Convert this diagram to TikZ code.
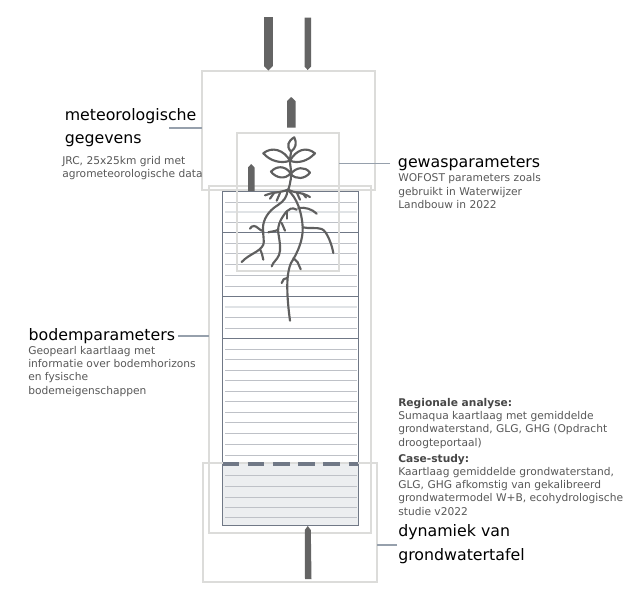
\documentclass[tikz,border=0pt]{standalone}
\usepackage{fontspec}
\setmainfont{DejaVu Sans}
\definecolor{boxgrey}{RGB}{220,220,218}
\definecolor{leadergrey}{RGB}{150,160,172}
\definecolor{soildark}{RGB}{112,120,134}
\definecolor{soilline}{RGB}{190,193,199}
\definecolor{soillight}{RGB}{224,227,230}
\definecolor{flowgrey}{RGB}{100,100,100}
\definecolor{plantgrey}{RGB}{95,95,95}
\definecolor{watergrey}{RGB}{236,238,240}
\definecolor{detailgrey}{RGB}{88,88,88}
\tikzset{
  regionbox/.style={draw=boxgrey,line width=1.5pt,inner sep=0pt,outer sep=0pt},
  leaderline/.style={draw=leadergrey,line width=1.2pt},
  flowarrow/.style={fill=flowgrey,draw=none},
  plantline/.style={draw=plantgrey,line width=1.6pt,line cap=round,line join=round},
  rootline/.style={draw=plantgrey,line width=1.6pt,line cap=round,line join=round},
  bigtext/.style={anchor=base west,inner sep=0pt,font=\fontsize{11.85}{18}\selectfont,text=black},
  detailtext/.style={anchor=base west,inner sep=0pt,font=\fontsize{8}{10}\selectfont,text=detailgrey},
  headtext/.style={detailtext,font=\fontsize{8}{10}\selectfont\bfseries,text=black!72},
}
\begin{document}
\begin{tikzpicture}[x=0.75pt,y=0.75pt,yscale=-1,xscale=1]
\useasboundingbox (0,0) rectangle (643,611);
\fill[white] (0,0) rectangle (643,611);

%Shape: groundwater fill
\fill[watergrey] (222,464) rectangle (358,525);

%Straight Lines: soil layers
\foreach \laagy in {202,222,243,253,264,275,286,317,328,349,359,370,380,391,401,412,422,433,444,455,475,486,497,507,517}{
  \draw[soilline,line width=0.7pt] (225,\laagy) -- (357,\laagy);
}
\foreach \laagy in {212,307}{
  \draw[soillight,line width=1.2pt] (225,\laagy) -- (357,\laagy);
}
\foreach \laagy in {232,296,338}{
  \draw[soildark,line width=0.7pt] (222,\laagy) -- (358,\laagy);
}

%Shape: soil column
\draw[soildark,line width=0.7pt] (222,191.5) rectangle (358,525);

%Shape: grey boxes
\node[regionbox,minimum width=129.75pt,minimum height=89.25pt] (meteobox) at (288.5,130.5) {};
\node[regionbox,minimum width=76.5pt,minimum height=103.5pt] (gewasbox) at (288,202) {};
\node[regionbox,minimum width=121.5pt,minimum height=260.25pt] (bodembox) at (290,359.5) {};
\node[regionbox,minimum width=130.5pt,minimum height=89.25pt] (waterbox) at (290,522.5) {};

%Straight Lines: water table
\draw[soildark,line width=3pt,dash pattern=on 12.5pt off 6.4pt] (222.5,464) -- (358,464);

%Shape: flow arrows
\fill[flowarrow] (264,17) -- (272.8,17) -- (272.8,66) -- (268.4,70.5) -- (264,66) -- cycle;
\fill[flowarrow] (304.5,17.5) -- (311,17.5) -- (311,66.5) -- (307.7,70) -- (304.5,66.5) -- cycle;
\fill[flowarrow] (287,127.5) -- (295.5,127.5) -- (295.5,101) -- (291.2,97) -- (287,101) -- cycle;
\fill[flowarrow] (248,191) -- (254.5,191) -- (254.5,167.5) -- (251.2,164) -- (248,167.5) -- cycle;
\fill[flowarrow] (305,579) -- (311.5,579) -- (310.8,530) -- (307.8,526) -- (304.8,530) -- cycle;

%Plant: stem and leaves
\draw[plantline] (288.3,190) .. controls (290.5,182) and (292,176) .. (290.7,168) .. controls (289.5,162) and (290,157) .. (291.2,151.7);
\draw[plantline] (291,151.7) .. controls (286,146) and (288,141) .. (294.3,137.3) .. controls (297,143) and (296,148) .. (291,151.7) -- cycle;
\draw[plantline] (290,160.7) .. controls (284,150) and (272,146) .. (263.3,153.3) .. controls (270,161) and (281,164) .. (290,160.7) -- cycle;
\draw[plantline] (290,160.7) .. controls (296,150) and (306,146) .. (315,153.3) .. controls (308,161) and (298,164) .. (290,160.7) -- cycle;
\draw[plantline] (290.7,173.3) .. controls (285,165) and (276,166) .. (271,171.7) .. controls (276,178) and (285,180) .. (290.7,173.3) -- cycle;
\draw[plantline] (290.7,174) .. controls (296,167) and (305,166) .. (310,172.7) .. controls (305,179) and (296,180) .. (290.7,174) -- cycle;

%Plant: roots
\draw[rootline] (287.7,189.7) .. controls (297,198) and (302,212) .. (302.7,228) .. controls (303,240) and (298,252) .. (291,263) .. controls (287,272) and (287,285) .. (287.5,295) .. controls (288,305) and (289,313) .. (290,320.7);
\draw[rootline] (293.3,258) -- (297.5,262) -- (300.7,269.3);
\draw[rootline] (287,278) .. controls (284,278) and (282.5,280) .. (281.7,283);
\draw[rootline] (302.7,227.3) .. controls (310,229) and (316,227) .. (321.7,229) .. controls (327,231) and (332,245) .. (333.3,253);
\draw[rootline] (298.3,208) .. controls (305,207) and (312,209) .. (316.7,213.7);
\draw[rootline] (287.7,189.7) .. controls (287,197) and (284,201) .. (278,205) .. controls (268,211) and (263,220) .. (263,228) .. controls (263,236) and (264.5,242) .. (263.3,244.7) .. controls (260,252) and (249,254) .. (241.7,262);
\draw[rootline] (260,249) -- (262,254) -- (263.3,259.7);
\draw[rootline] (263.3,231.3) .. controls (259,230) and (257,226) .. (254,226) .. controls (252,226) and (251,227) .. (250,228.7);
\draw[rootline] (296.7,209.7) .. controls (292,207) and (289,209) .. (286.7,211.3) .. controls (282,217) and (277,225) .. (278.3,233) .. controls (280,243) and (281,250) .. (279,255) .. controls (277,260) and (273,262) .. (271.7,266.3);
\draw[rootline] (278.3,229.7) .. controls (275,231.5) and (271,231.5) .. (268.3,232.3);
\draw[rootline] (281.7,223) -- (285,230.7);
\draw[rootline] (286.7,211.3) -- (286.7,218.7);
\draw[rootline] (265,195.3) .. controls (272,192) and (280,193) .. (287.7,189.7) .. controls (294,193) and (302,192) .. (310,197);
\draw[rootline] (270,198.7) -- (274,193);
\draw[rootline] (276.7,200.7) -- (280,193);
\draw[rootline] (300,199.7) -- (297,193);
\draw[rootline] (306,197.5) -- (303,193.5);

%Text Node
\node[bigtext] (meteolabel) at (64.5,120) {meteorologische};
\node[bigtext] (meteolabeltwo) at (64.5,143) {gegevens};
\node[detailtext] (meteodetail) at (62,164) {JRC, 25x25km grid met};
\node[detailtext] (meteodetailtwo) at (62,177) {agrometeorologische data};
%Text Node
\node[bigtext] (gewaslabel) at (397.7,167.7) {gewasparameters};
\node[detailtext] (gewasdetail) at (398,181.7) {WOFOST parameters zoals};
\node[detailtext] (gewasdetailtwo) at (398,195) {gebruikt in Waterwijzer};
\node[detailtext] (gewasdetailthree) at (398,208.3) {Landbouw in 2022};
%Text Node
\node[bigtext] (bodemlabel) at (28.3,340) {bodemparameters};
\node[detailtext] (bodemdetail) at (28,354) {Geopearl kaartlaag met};
\node[detailtext] (bodemdetailtwo) at (28,367.3) {informatie over bodemhorizons};
\node[detailtext] (bodemdetailthree) at (28,380.7) {en fysische};
\node[detailtext] (bodemdetailfour) at (28,394) {bodemeigenschappen};
%Text Node
\node[headtext] (regiohead) at (398,406) {Regionale analyse:};
\node[detailtext] (regiodetail) at (398,419.3) {Sumaqua kaartlaag met gemiddelde};
\node[detailtext] (regiodetailtwo) at (398,432.7) {grondwaterstand, GLG, GHG (Opdracht};
\node[detailtext] (regiodetailthree) at (398,446) {droogteportaal)};
\node[headtext] (casehead) at (398,462.7) {Case-study:};
\node[detailtext] (casedetail) at (398,475) {Kaartlaag gemiddelde grondwaterstand,};
\node[detailtext] (casedetailtwo) at (398,488.3) {GLG, GHG afkomstig van gekalibreerd};
\node[detailtext] (casedetailthree) at (398,501.7) {grondwatermodel W+B, ecohydrologische};
\node[detailtext] (casedetailfour) at (398,515) {studie v2022};
%Text Node
\node[bigtext] (waterlabel) at (398,536.7) {dynamiek van};
\node[bigtext] (waterlabeltwo) at (398,560) {grondwatertafel};

%Straight Lines: leaders
\coordinate (meteoend) at (169,128);
\coordinate (gewasend) at (390,163.5);
\coordinate (bodemend) at (178,336);
\coordinate (waterend) at (397,545);
\draw[leaderline] (meteoend) -- (meteoend -| meteobox.west);
\draw[leaderline] (gewasend) -- (gewasend -| gewasbox.east);
\draw[leaderline] (bodemend) -- (bodemend -| bodembox.west);
\draw[leaderline] (waterend) -- (waterend -| waterbox.east);
\end{tikzpicture}
\end{document}
